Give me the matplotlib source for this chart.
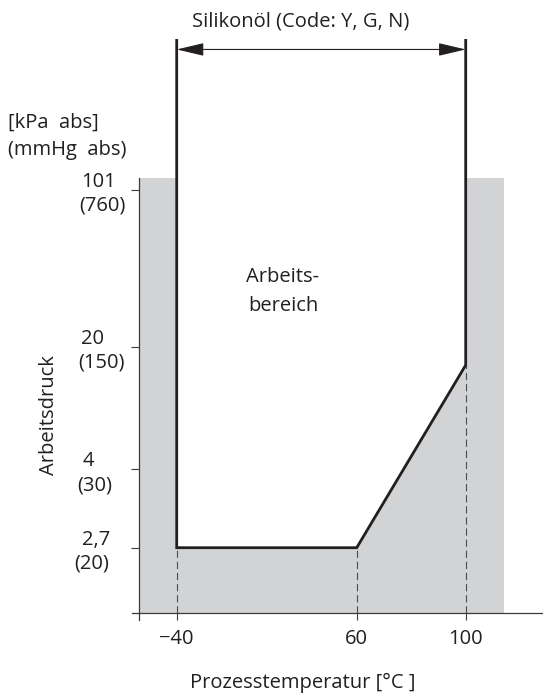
import numpy as np
import matplotlib
matplotlib.use('Agg')
import matplotlib.pyplot as plt
import matplotlib.transforms as mtransforms

plt.rcParams['font.family'] = ['Open Sans', 'DejaVu Sans']

# --- data ---
temp_ticks = [-40, 60, 100]
temp_labels = ['\u221240', '60', '100']
press_ticks = [101, 20, 4, 2.7]
kpa_labels = ['101', '20', '4', '2,7']
mmhg_labels = ['(760)', '(150)', '(30)', '(20)']

# lower edge of the working range (temperature, pressure)
edge_temp = [-40, 60, 100]
edge_press = [2.7, 2.7, 17.6]

# extent of the shaded chart area
area_temp = [-61, 114]
area_press = [0, 107]

# --- schematic (not to scale) axes: anchor values -> pixel positions ---
x_vals, x_px = [-40, 60, 100], [176.7, 356.7, 465.7]
y_vals, y_px = [0, 2.7, 4, 20, 101], [613, 547.7, 469.3, 346.7, 190]

W, H = 543, 696
AX_L, AX_R, AX_T, AX_B = 132, 543, 39, 620
INK = '#231f20'
GREY = '#d1d3d4'
FS = 14.5


def piecewise(vals, pos):
    vals = np.asarray(vals, float)
    pos = np.asarray(pos, float)
    s0 = (pos[1] - pos[0]) / (vals[1] - vals[0])
    s1 = (pos[-1] - pos[-2]) / (vals[-1] - vals[-2])

    def fwd(v):
        v = np.asarray(v, float)
        out = np.interp(v, vals, pos)
        out = np.where(v < vals[0], pos[0] + (v - vals[0]) * s0, out)
        out = np.where(v > vals[-1], pos[-1] + (v - vals[-1]) * s1, out)
        return out

    def inv(p):
        p = np.asarray(p, float)
        out = np.interp(p, pos, vals)
        out = np.where(p < pos[0], vals[0] + (p - pos[0]) / s0, out)
        out = np.where(p > pos[-1], vals[-1] + (p - pos[-1]) / s1, out)
        return out

    return fwd, inv


xf, xi = piecewise(x_vals, x_px)
yf, yi = piecewise(y_vals, [-p for p in y_px])

fig = plt.figure(figsize=(W / 100, H / 100), dpi=100)
ax = fig.add_axes([AX_L / W, 1 - AX_B / H, (AX_R - AX_L) / W, (AX_B - AX_T) / H])
ax.set_xscale('function', functions=(xf, xi))
ax.set_yscale('function', functions=(yf, yi))
xlim = (float(xi(AX_L)), float(xi(AX_R)))
ylim = (float(yi(-AX_B)), float(yi(-AX_T)))
ax.set_xlim(xlim)
ax.set_ylim(ylim)
ax.patch.set_visible(False)

# shaded area
ax.fill([area_temp[0], area_temp[1], area_temp[1], area_temp[0]],
        [area_press[0], area_press[0], area_press[1], area_press[1]],
        color=GREY, lw=0, zorder=1)

# working range (white) and its border
bx = [edge_temp[0]] + edge_temp + [edge_temp[-1]]
by = [ylim[1]] + edge_press + [ylim[1]]
ax.fill(bx, by, color='white', lw=0, zorder=2)
ax.plot(bx, by, color=INK, lw=2.0, solid_joinstyle='miter', zorder=4)

# dashed guides
for t, p in zip(edge_temp, edge_press):
    ax.plot([t, t], [0, p], color='#4d4d4f', lw=0.8, dashes=(6.5, 3.5), zorder=3)

# spines
for s in ['top', 'right']:
    ax.spines[s].set_visible(False)
ax.spines['left'].set_position(('data', area_temp[0]))
ax.spines['left'].set_bounds(ylim[0], area_press[1])
ax.spines['bottom'].set_position(('data', 0))
for s in ['left', 'bottom']:
    ax.spines[s].set_color('#3b3b3d')
    ax.spines[s].set_linewidth(0.9)
    ax.spines[s].set_zorder(5)

ax.set_xticks(temp_ticks, temp_labels)
ax.tick_params(axis='x', direction='out', length=5, width=0.8, color='#3b3b3d',
               labelsize=FS, labelcolor=INK, pad=6.5)
ax.set_yticks(press_ticks, [''] * len(press_ticks))
ax.tick_params(axis='y', direction='out', length=6, width=0.8, color='#3b3b3d')

# two-line pressure labels
top_cx = [99, 93, 88, 95.7]
bot_cx = [102, 101.7, 95, 92]
to_ax = lambda px: (px - AX_L) / (AX_R - AX_L)
blend = mtransforms.blended_transform_factory(ax.transAxes, ax.transData)
for v, a, b, cx1, cx2 in zip(press_ticks, kpa_labels, mmhg_labels, top_cx, bot_cx):
    up = blend + mtransforms.ScaledTranslation(0, 3 / 100, fig.dpi_scale_trans)
    dn = blend + mtransforms.ScaledTranslation(0, -21 / 100, fig.dpi_scale_trans)
    ax.text(to_ax(cx1), v, a, transform=up, ha='center', va='baseline',
            fontsize=FS, color=INK, clip_on=False)
    ax.text(to_ax(cx2), v, b, transform=dn, ha='center', va='baseline',
            fontsize=FS, color=INK, clip_on=False)

# arrow for the silicone oil range
ax.annotate('', xy=(edge_temp[-1], 0.982), xytext=(edge_temp[0], 0.982),
            xycoords=('data', 'axes fraction'), textcoords=('data', 'axes fraction'),
            arrowprops=dict(arrowstyle='<|-|>,head_length=0.85,head_width=0.2',
                            mutation_scale=20, color=INK, lw=0.8,
                            shrinkA=0, shrinkB=0))

fig.text(301 / W, 1 - 22 / H, 'Silikonöl (Code: Y, G, N)', ha='center', va='center',
         fontsize=FS, color=INK)
fig.text(8 / W, 1 - 128 / H, '[kPa  abs]', ha='left', va='baseline',
         fontsize=FS, color=INK)
fig.text(8 / W, 1 - 155 / H, '(mmHg  abs)', ha='left', va='baseline',
         fontsize=FS, color=INK)
fig.text(49 / W, 1 - 415 / H, 'Arbeitsdruck', rotation=90, ha='center', va='center',
         fontsize=FS, color=INK)
fig.text(283 / W, 1 - 291.5 / H, 'Arbeits-\nbereich', ha='center', va='center',
         fontsize=FS, color=INK, linespacing=1.6)
fig.text(303 / W, 1 - 683 / H, 'Prozesstemperatur [°C ]', ha='center', va='center',
         fontsize=FS, color=INK)

fig.savefig('out.png', dpi=100)
